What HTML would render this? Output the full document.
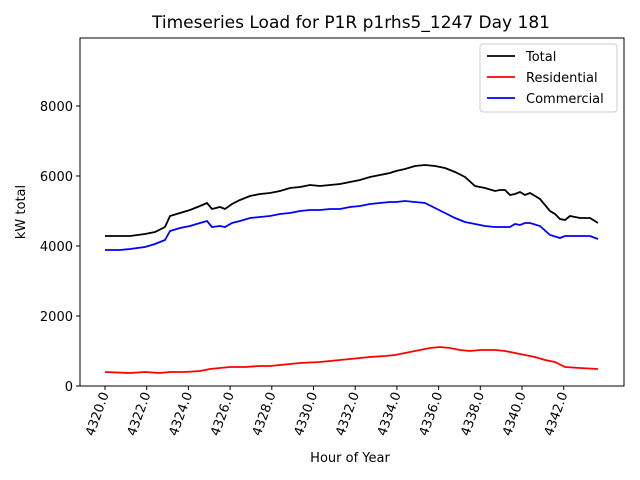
<!DOCTYPE html>
<html><head><meta charset="utf-8"><style>body{margin:0;background:#fff}svg{display:block;font-family:"DejaVu Sans","Liberation Sans",sans-serif}</style></head>
<body>
<svg width="640" height="480" viewBox="0 0 640 480">
<rect width="640" height="480" fill="#fff"/>
<text x="351" y="28" font-size="17" text-anchor="middle">Timeseries Load for P1R p1rhs5_1247  Day 181</text>
<polyline fill="none" stroke="#000" stroke-width="1.8" points="105,236 120,236 130,236 145,234 155,232 165,227 170,216 180,213 190,210 200,206 207,203 212,209 220,207 225,209 232,204 240,200 250,196 260,194 270,193 280,191 290,188 300,187 310,185 320,186 330,185 340,184 350,182 360,180 370,177 380,175 390,173 396,171 405,169 415,166 425,165 435,166 445,168 455,172 465,177 475,186 485,188 495,191 500,190 505,190 510,195 515,194 520,192 525,195 530,193 540,199 550,211 555,214 560,219 565,220 570,216 580,218 590,218 598,223"/>
<polyline fill="none" stroke="#0000ff" stroke-width="1.8" points="105,250 120,250 130,249 145,247 155,244 165,240 170,231 180,228 190,226 200,223 207,221 212,227 220,226 225,227 232,223 240,221 250,218 260,217 270,216 280,214 290,213 300,211 310,210 320,210 330,209 340,209 350,207 360,206 370,204 380,203 390,202 396,202 405,201 415,202 425,203 435,208 445,213 455,218 465,222 475,224 485,226 495,227 505,227 510,227 515,224 520,225 525,223 530,223 540,226 550,235 560,238 565,236 580,236 590,236 598,239"/>
<polyline fill="none" stroke="#ff0000" stroke-width="1.8" points="105,372 130,373 145,372 160,373 170,372 185,372 200,371 210,369 220,368 230,367 245,367 260,366 270,366 290,364 300,363 320,362 340,360 350,359 360,358 370,357 385,356 395,355 405,353 420,350 430,348 440,347 450,348 460,350 470,351 480,350 495,350 505,351 515,353 525,355 535,357 545,360 555,362 565,367 580,368 598,369"/>
<rect x="80" y="38" width="544" height="348" fill="none" stroke="#000" stroke-width="1"/>
<g stroke="#000" stroke-width="1">
<line x1="76" y1="386" x2="80" y2="386"/><line x1="76" y1="316" x2="80" y2="316"/><line x1="76" y1="246" x2="80" y2="246"/><line x1="76" y1="176" x2="80" y2="176"/><line x1="76" y1="106" x2="80" y2="106"/>
</g>
<g font-size="13" text-anchor="end">
<text x="73" y="391">0</text><text x="73" y="321">2000</text><text x="73" y="251">4000</text><text x="73" y="181">6000</text><text x="73" y="111">8000</text>
</g>
<g stroke="#000" stroke-width="1">
<line x1="105" y1="386" x2="105" y2="390"/><line x1="146.7" y1="386" x2="146.7" y2="390"/><line x1="188.4" y1="386" x2="188.4" y2="390"/><line x1="230.1" y1="386" x2="230.1" y2="390"/><line x1="271.8" y1="386" x2="271.8" y2="390"/><line x1="313.5" y1="386" x2="313.5" y2="390"/><line x1="355.2" y1="386" x2="355.2" y2="390"/><line x1="396.9" y1="386" x2="396.9" y2="390"/><line x1="438.6" y1="386" x2="438.6" y2="390"/><line x1="480.3" y1="386" x2="480.3" y2="390"/><line x1="522" y1="386" x2="522" y2="390"/><line x1="563.7" y1="386" x2="563.7" y2="390"/>
</g>
<g font-size="13" text-anchor="end">
<text transform="translate(109,394) rotate(-70)">4320.0</text>
<text transform="translate(150.7,394) rotate(-70)">4322.0</text>
<text transform="translate(192.4,394) rotate(-70)">4324.0</text>
<text transform="translate(234.1,394) rotate(-70)">4326.0</text>
<text transform="translate(275.8,394) rotate(-70)">4328.0</text>
<text transform="translate(317.5,394) rotate(-70)">4330.0</text>
<text transform="translate(359.2,394) rotate(-70)">4332.0</text>
<text transform="translate(400.9,394) rotate(-70)">4334.0</text>
<text transform="translate(442.6,394) rotate(-70)">4336.0</text>
<text transform="translate(484.3,394) rotate(-70)">4338.0</text>
<text transform="translate(526,394) rotate(-70)">4340.0</text>
<text transform="translate(567.7,394) rotate(-70)">4342.0</text>
</g>
<text x="350" y="462" font-size="13" text-anchor="middle">Hour of Year</text>
<text transform="translate(25,212) rotate(-90)" font-size="13" text-anchor="middle">kW total</text>
<rect x="480" y="44" width="137" height="68" rx="3" fill="#fff" stroke="#ccc"/>
<line x1="487" y1="56" x2="515" y2="56" stroke="#000" stroke-width="1.8"/>
<line x1="487" y1="77" x2="515" y2="77" stroke="#ff0000" stroke-width="1.8"/>
<line x1="487" y1="98" x2="515" y2="98" stroke="#0000ff" stroke-width="1.8"/>
<g font-size="13"><text x="526" y="61">Total</text><text x="526" y="82">Residential</text><text x="526" y="103">Commercial</text></g>
</svg>
</body></html>
